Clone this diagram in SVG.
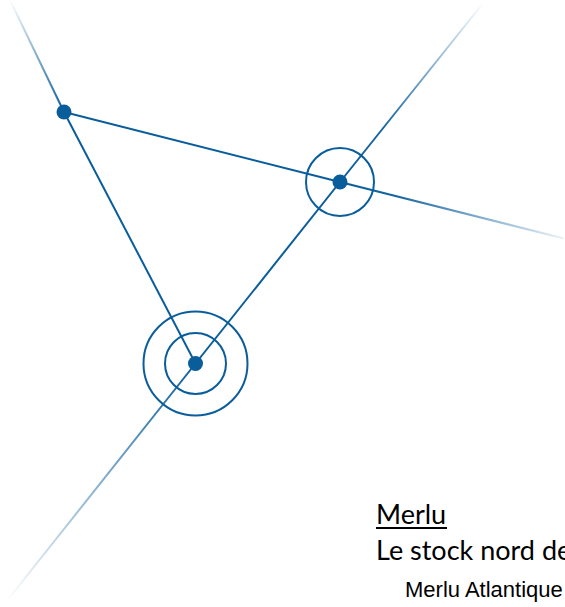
<svg xmlns="http://www.w3.org/2000/svg" width="565" height="607" viewBox="0 0 565 607">
  <style>
    .ln { fill: none; stroke-width: 2; stroke-linecap: butt; }
    .solid { stroke: #0a5d9b; }
    .ring { fill: none; stroke: #0a5d9b; stroke-width: 2; }
    .dot { fill: #0a5d9b; }
    .t1 { font-family: Lato, "Liberation Sans", sans-serif; font-size: 27px; fill: #000; }
    .t2 { font-family: "Liberation Sans", Arial, sans-serif; font-size: 22px; fill: #000; }
  </style>
  <defs>
    <linearGradient id="gTL" gradientUnits="userSpaceOnUse" x1="10" y1="0" x2="64" y2="112">
      <stop offset="0" stop-color="#0a5d9b" stop-opacity="0"/>
      <stop offset="1" stop-color="#0a5d9b" stop-opacity="1"/>
    </linearGradient>
    <linearGradient id="gR" gradientUnits="userSpaceOnUse" x1="340" y1="182" x2="564" y2="238.5">
      <stop offset="0" stop-color="#0a5d9b" stop-opacity="1"/>
      <stop offset="0.25" stop-color="#0a5d9b" stop-opacity="0.95"/>
      <stop offset="1" stop-color="#0a5d9b" stop-opacity="0.08"/>
    </linearGradient>
    <linearGradient id="gBL" gradientUnits="userSpaceOnUse" x1="6" y1="602" x2="195.5" y2="363.5">
      <stop offset="0" stop-color="#0a5d9b" stop-opacity="0"/>
      <stop offset="1" stop-color="#0a5d9b" stop-opacity="1"/>
    </linearGradient>
    <linearGradient id="gTR" gradientUnits="userSpaceOnUse" x1="340" y1="182" x2="484" y2="2">
      <stop offset="0" stop-color="#0a5d9b" stop-opacity="1"/>
      <stop offset="0.3" stop-color="#0a5d9b" stop-opacity="0.95"/>
      <stop offset="1" stop-color="#0a5d9b" stop-opacity="0"/>
    </linearGradient>
  </defs>

  <g id="connectors">
    <path class="ln" stroke="url(#gTL)" d="M10,0 L64,112"/>
    <path class="ln solid" d="M64,112 L195.5,363.5"/>
    <path class="ln solid" d="M64,112 L340,182"/>
    <path class="ln" stroke="url(#gR)" d="M340,182 L564,238.5"/>
    <path class="ln" stroke="url(#gBL)" d="M6,602 L195.5,363.5"/>
    <path class="ln solid" d="M195.5,363.5 L340,182"/>
    <path class="ln" stroke="url(#gTR)" d="M340,182 L484,2"/>
  </g>

  <g id="node-a">
    <circle class="dot" cx="64" cy="112" r="7.5"/>
  </g>
  <g id="node-b">
    <circle class="ring" cx="340" cy="182" r="34"/>
    <circle class="dot" cx="340" cy="182" r="7.5"/>
  </g>
  <g id="node-c">
    <circle class="ring" cx="195.5" cy="363.5" r="30.5"/>
    <circle class="ring" cx="195.5" cy="363.5" r="52"/>
    <circle class="dot" cx="195.5" cy="363.5" r="7.5"/>
  </g>

  <g id="caption">
    <text class="t1" x="376" y="524">Merlu</text>
    <rect x="376" y="527" width="71" height="2" fill="#000"/>
    <text class="t1" x="376" y="560">Le stock nord de</text>
    <text class="t2" x="405" y="597">Merlu Atlantique</text>
  </g>
</svg>
